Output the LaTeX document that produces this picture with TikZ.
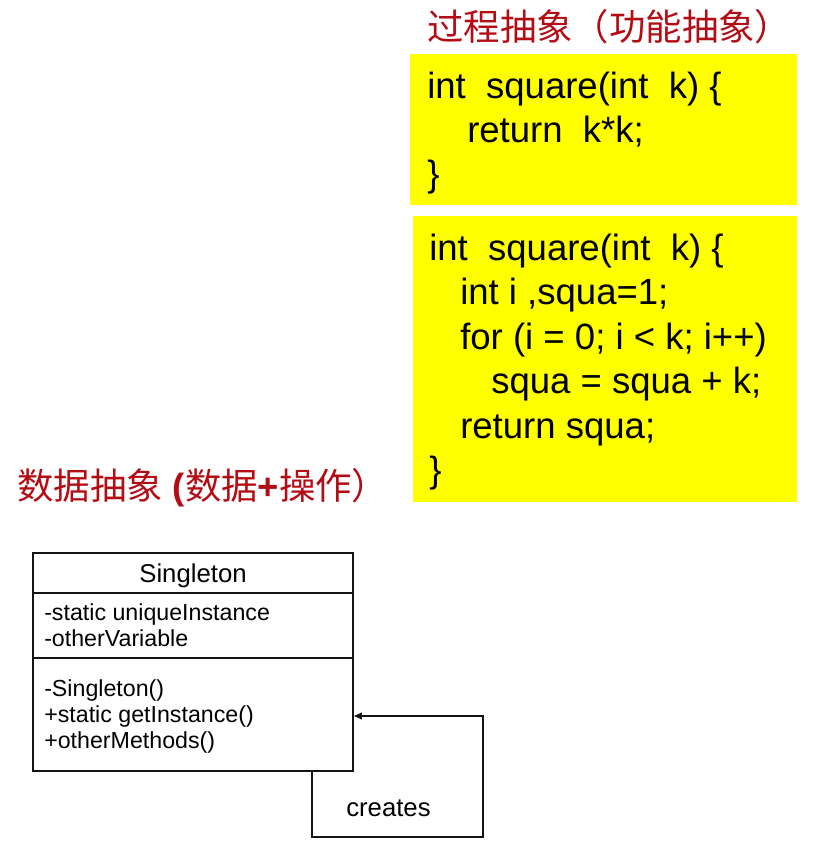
\documentclass[tikz,border=0pt]{standalone}
\usepackage{fontspec}
\setmainfont{Liberation Sans}
\newfontfamily\cjk{Noto Sans CJK SC}
\usetikzlibrary{arrows.meta}
\definecolor{titlered}{RGB}{180,12,20}
\definecolor{codeyellow}{RGB}{255,255,0}
\definecolor{umlline}{RGB}{20,20,20}
\tikzset{
  codebox/.style={fill=codeyellow, draw=none, inner sep=0pt},
  codeline/.style={anchor=base west, inner sep=0pt, font=\fontsize{27.4pt}{32pt}\selectfont},
  titletext/.style={anchor=base west, inner sep=0pt, text=titlered, font=\fontsize{27.3pt}{32pt}\selectfont},
  umlhead/.style={anchor=base, inner sep=0pt, font=\fontsize{19.3pt}{23pt}\selectfont},
  umltext/.style={anchor=base west, inner sep=0pt, font=\fontsize{17.4pt}{21pt}\selectfont},
  umlbox/.style={draw=umlline, line width=1.2pt, fill=white, inner sep=0pt},
  conn/.style={draw=umlline, line width=1pt, -{Triangle[length=6pt,width=5pt]}}
}
\begin{document}
\begin{tikzpicture}[x=0.75pt,y=-0.75pt]
\useasboundingbox (0,0) rectangle (814,854);
% titles
\node[titletext] (t1) at (427,40) {\cjk 过程抽象（功能抽象）};
\node[titletext] (t2) at (17,499) {{\cjk 数据抽象}\ {\bfseries (}{\cjk 数据}{\bfseries +}{\cjk 操作）}};
% code box 1
\path[codebox] (410,54) rectangle (797,205);
\node[codeline] (a1) at (427,98) {int\ \ square(int\ \ k) \{};
\node[codeline] (a2) at (467,142) {return\ \ k*k;};
\node[codeline] (a3) at (427,186) {\}};
% code box 2
\path[codebox] (413,216) rectangle (797,502);
\node[codeline] (b1) at (429,260) {int\ \ square(int\ \ k) \{};
\node[codeline] (b2) at (460,304) {int i ,squa=1;};
\node[codeline] (b3) at (460,349) {for (i = 0; i < k; i++)};
\node[codeline] (b4) at (491,393) {squa = squa + k;};
\node[codeline] (b5) at (460,438) {return squa;};
\node[codeline] (b6) at (429,482) {\}};
% UML class
\node[umlbox, minimum width=240pt, minimum height=163.5pt] (cls) at (193,662) {};
\draw[umlline, line width=2pt] (33,593) -- (353,593);
\draw[umlline, line width=1.2pt] (33,658) -- (353,658);
\node[umlhead] (cname) at (193,582) {Singleton};
\node[umltext] (at1) at (44,620) {-static uniqueInstance};
\node[umltext] (at2) at (44,646) {-otherVariable};
\node[umltext] (m1) at (44,696) {-Singleton()};
\node[umltext] (m2) at (44,722) {+static getInstance()};
\node[umltext] (m3) at (44,748) {+otherMethods()};
% self association
\coordinate (loopA) at (312,837);
\coordinate (loopB) at (483,837);
\coordinate (loopC) at (483,716);
\draw[conn] (cls.south -| loopA) -- (loopA) -- (loopB) -- (loopC) -- (cls.east |- loopC);
\node[umlhead, anchor=base west] (creates) at (346,816) {creates};
\end{tikzpicture}
\end{document}
